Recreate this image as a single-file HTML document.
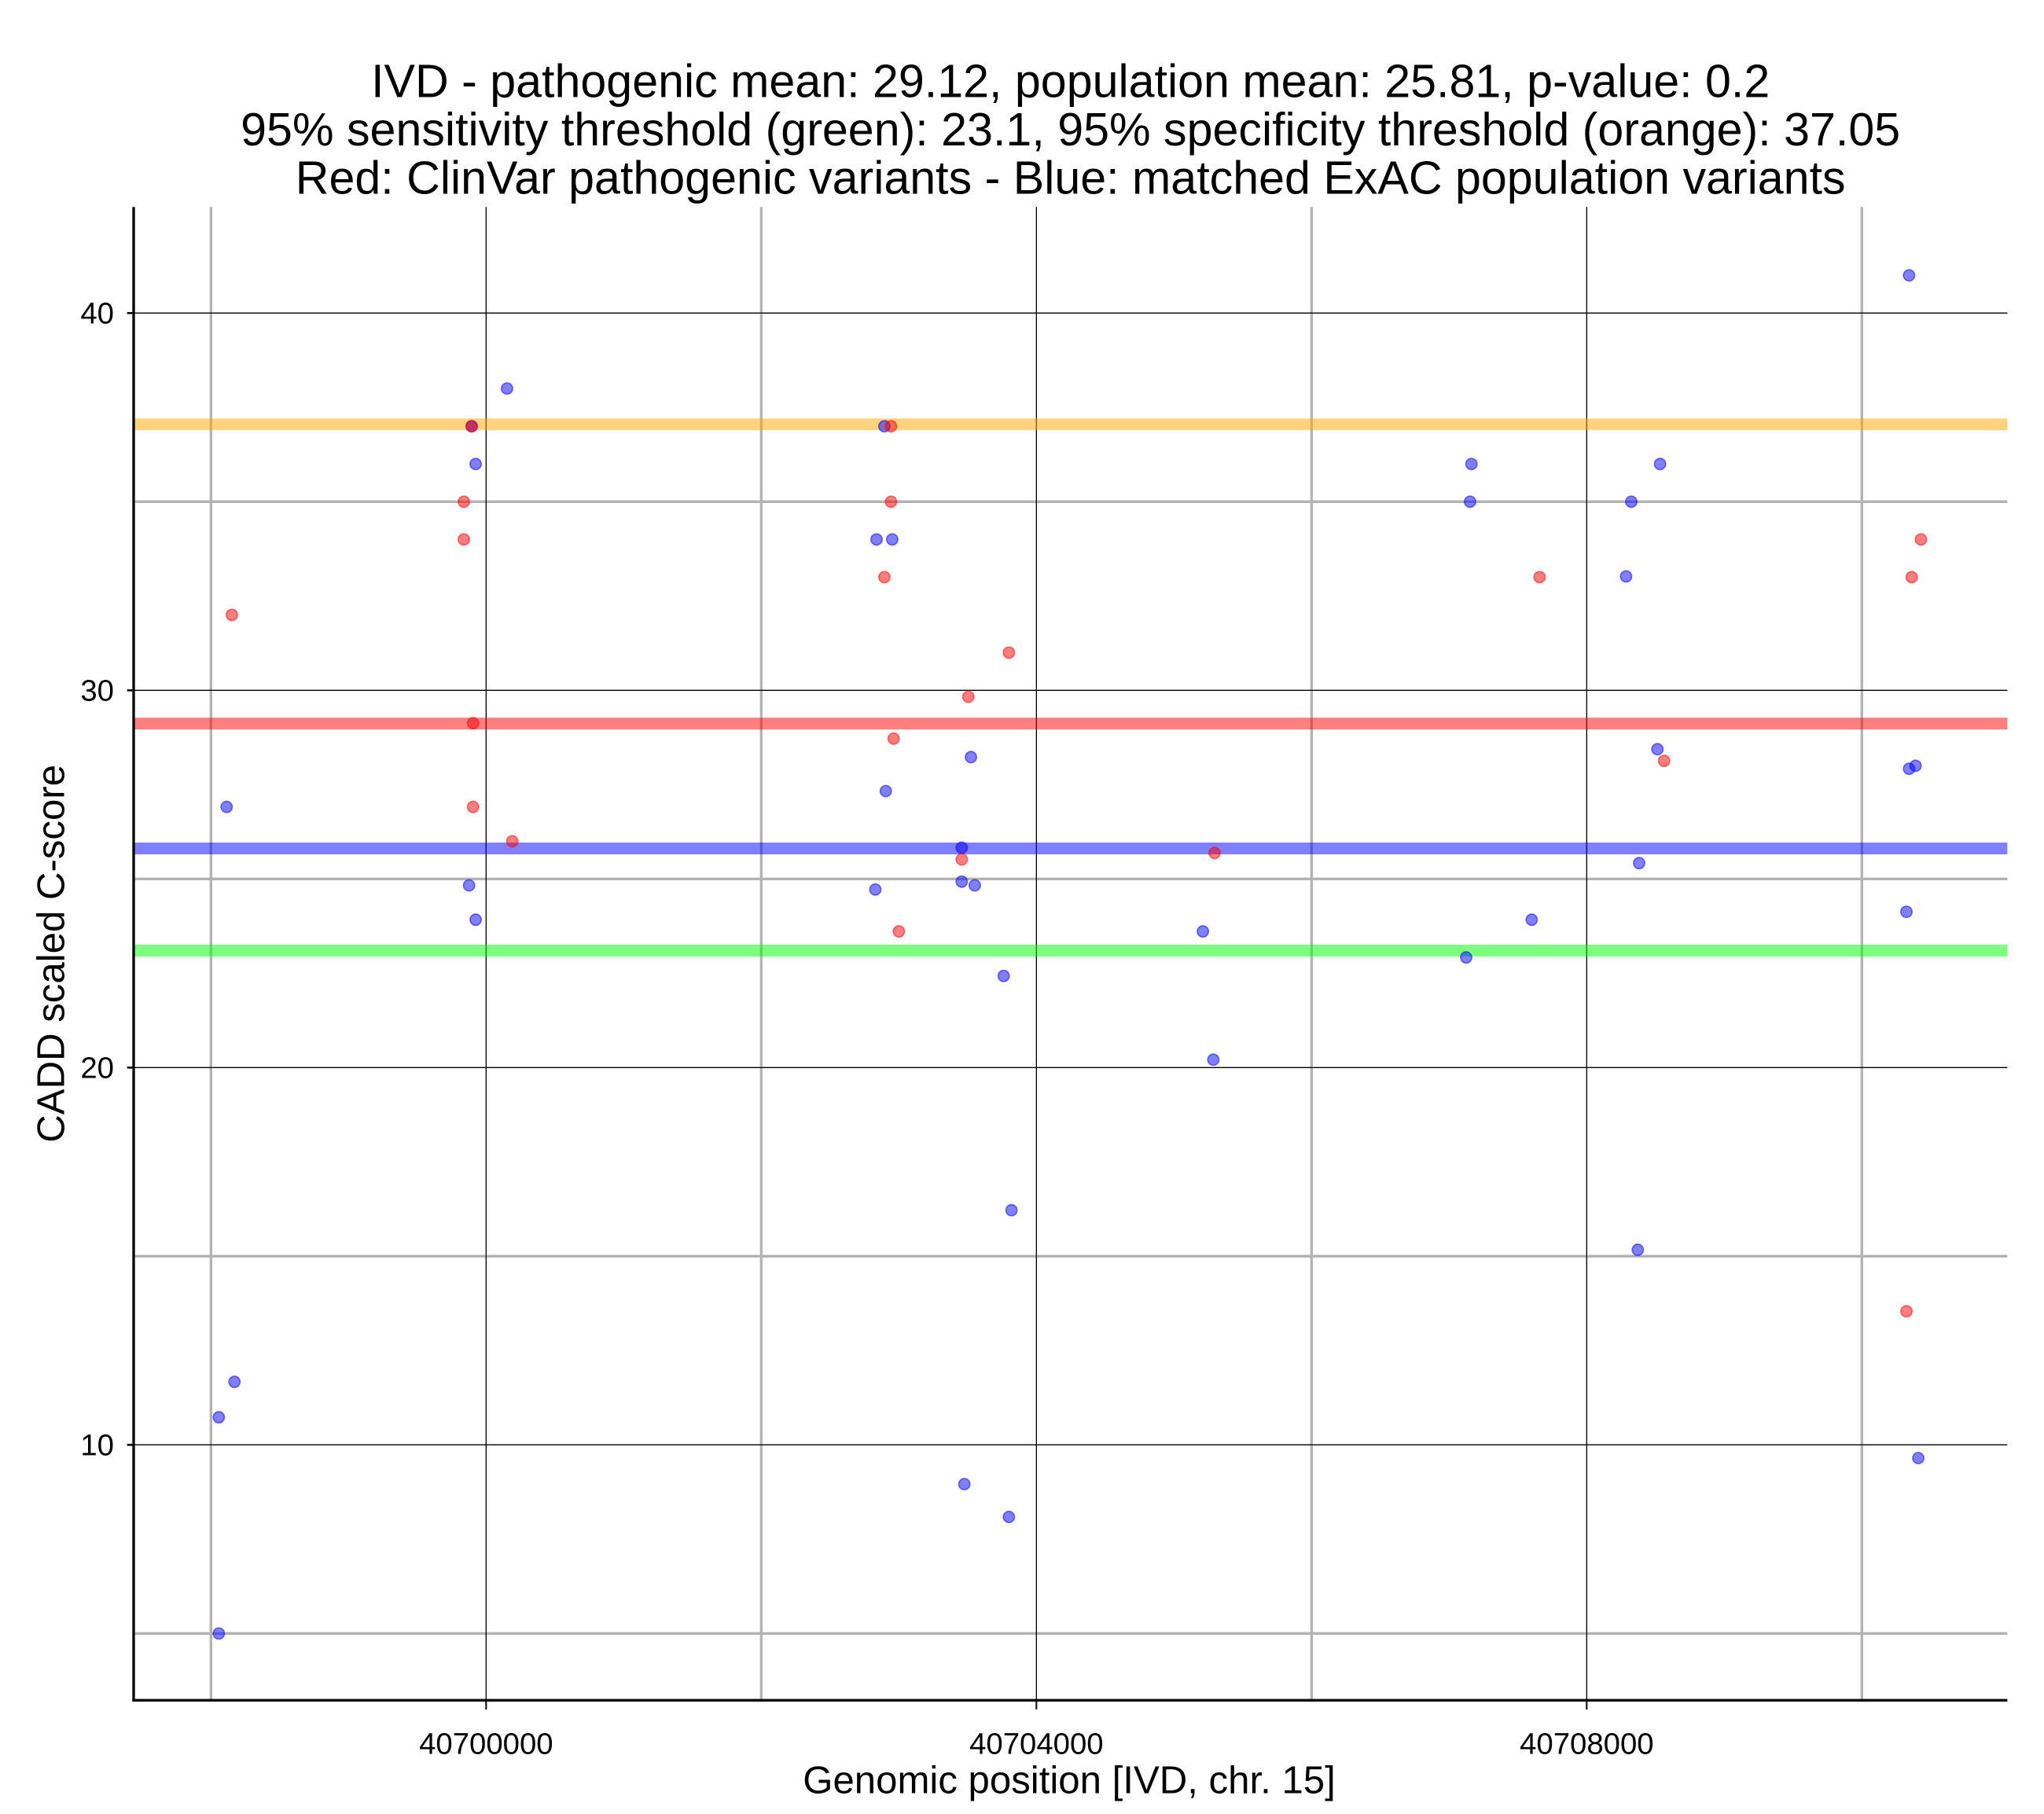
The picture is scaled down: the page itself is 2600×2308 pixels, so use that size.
<!DOCTYPE html>
<html><head><meta charset="utf-8"><style>
html,body{margin:0;padding:0;background:#fff;}
svg{display:block;font-family:"Liberation Sans",Arial,sans-serif;}
</style></head><body>
<svg id="chart" width="2600" height="2308" viewBox="0 0 1560 1384.8" xmlns="http://www.w3.org/2000/svg">
<g font-size="35.5" text-anchor="middle" fill="#000">
<text x="817" y="74">IVD - pathogenic mean: 29.12, population mean: 25.81, p-value: 0.2</text>
<text x="817" y="111">95% sensitivity threshold (green): 23.1, 95% specificity threshold (orange): 37.05</text>
<text x="817" y="148">Red: ClinVar pathogenic variants - Blue: matched ExAC population variants</text>
</g>
<g id="grid"></g>
<g id="hlines"></g>
<g id="points"></g>
<g id="axes"></g>
<text x="816" y="1369" font-size="29.5" text-anchor="middle">Genomic position [IVD, chr. 15]</text>
<text transform="translate(49,728) rotate(-90)" font-size="29.5" text-anchor="middle">CADD scaled C-score</text>
</svg>
<script>
const xMajorTicks = [40700000, 40704000, 40708000];
const xMinorTicks = [40698000, 40702000, 40706000, 40710000];
const yMajorTicks = [10, 20, 30, 40];
const yMinorTicks = [5, 15, 25, 35];
const blueX = [40698057,40698057,40698171,40698114,40699876,40699924,40699924,40700152,40699895,40702838,40702952,40702895,40702905,40702829,40703457,40703457,40703524,40703552,40703762,40703819,40703476,40703800,40705210,40705286,40707162,40707152,40707124,40707600,40708286,40708324,40708533,40708514,40708381,40708371,40710343,40710343,40710390,40710324,40710410];
const blueY = [5.0,10.73,11.67,26.91,24.83,23.92,36.0,38.0,37.0,34.0,34.0,37.0,27.33,24.72,25.83,24.93,28.23,24.83,22.43,16.22,8.96,8.09,23.61,20.21,36.0,35.0,22.92,23.92,33.02,35.0,36.0,28.44,25.42,15.17,41.0,27.92,28.0,24.13,9.65];
const redX = [40698152,40699838,40699838,40699895,40699905,40699905,40700190,40702943,40702943,40702895,40702962,40703000,40703457,40703505,40703800,40705295,40707657,40708562,40710362,40710429,40710324];
const redY = [32.0,35.0,34.0,37.0,29.13,26.91,26.0,37.0,35.0,33.0,28.72,23.61,25.52,29.83,31.0,25.69,33.0,28.13,33.0,34.0,13.54];
const hlineValues = [37.05, 29.12, 25.81, 23.1];
const hlineNames = ['specificity-threshold-line','pathogenic-mean-line','population-mean-line','sensitivity-threshold-line'];
const hlineColors = ['rgba(255,165,0,0.5)','rgba(255,0,0,0.5)','rgba(0,0,255,0.5)','rgba(0,255,0,0.5)'];

const L=102,R=1532,T=158,B=1298;
function xs(v){return 371+(v-40700000)*0.105;}
function ys(v){return 239+(40-v)*28.8;}
const NS='http://www.w3.org/2000/svg';
function mk(tag,attrs,parent){const e=document.createElementNS(NS,tag);for(const k in attrs)e.setAttribute(k,attrs[k]);parent.appendChild(e);return e;}
const grid=document.getElementById('grid');
xMinorTicks.forEach(v=>{const e=mk('line',{x1:xs(v),x2:xs(v),y1:T,y2:B,stroke:'#b3b3b3','stroke-width':2},grid);

});
yMinorTicks.forEach(v=>{const e=mk('line',{x1:L,x2:R,y1:ys(v),y2:ys(v),stroke:'#b3b3b3','stroke-width':2},grid);

});
xMajorTicks.forEach(v=>{const e=mk('line',{x1:xs(v),x2:xs(v),y1:T,y2:B,stroke:'#000','stroke-width':0.8},grid);

});
yMajorTicks.forEach(v=>{const e=mk('line',{x1:L,x2:R,y1:ys(v),y2:ys(v),stroke:'#000','stroke-width':0.8},grid);

});
const hl=document.getElementById('hlines');
hlineValues.forEach((v,i)=>{const e=mk('line',{x1:L,x2:R,y1:ys(v),y2:ys(v),stroke:hlineColors[i],'stroke-width':9},hl);

});
const pts=document.getElementById('points');
blueX.forEach((v,i)=>{const e=mk('ellipse',{cx:xs(v),cy:ys(blueY[i]),rx:4.3,ry:4.3,fill:'rgba(0,0,255,0.5)',stroke:'rgba(0,0,255,0.5)','stroke-width':1},pts);

});
redX.forEach((v,i)=>{const e=mk('ellipse',{cx:xs(v),cy:ys(redY[i]),rx:4.3,ry:4.3,fill:'rgba(255,0,0,0.5)',stroke:'rgba(255,0,0,0.5)','stroke-width':1},pts);

});
const ax=document.getElementById('axes');
let e=mk('line',{x1:L,x2:L,y1:T,y2:B+1,stroke:'#000','stroke-width':2},ax);


e=mk('line',{x1:L-1,x2:R,y1:B,y2:B,stroke:'#000','stroke-width':2},ax);


xMajorTicks.forEach(v=>{const t=mk('line',{x1:xs(v),x2:xs(v),y1:B,y2:B+7,stroke:'#000','stroke-width':1.2},ax);


const lb=mk('text',{x:xs(v),y:B+41,'font-size':23,'text-anchor':'middle'},ax);lb.textContent=String(v);

});
yMajorTicks.forEach(v=>{const t=mk('line',{x1:L-5,x2:L,y1:ys(v),y2:ys(v),stroke:'#000','stroke-width':1.5},ax);


const lb=mk('text',{x:L-15,y:ys(v)+8,'font-size':23,'text-anchor':'end'},ax);lb.textContent=String(v);

});
</script>
</body></html>
